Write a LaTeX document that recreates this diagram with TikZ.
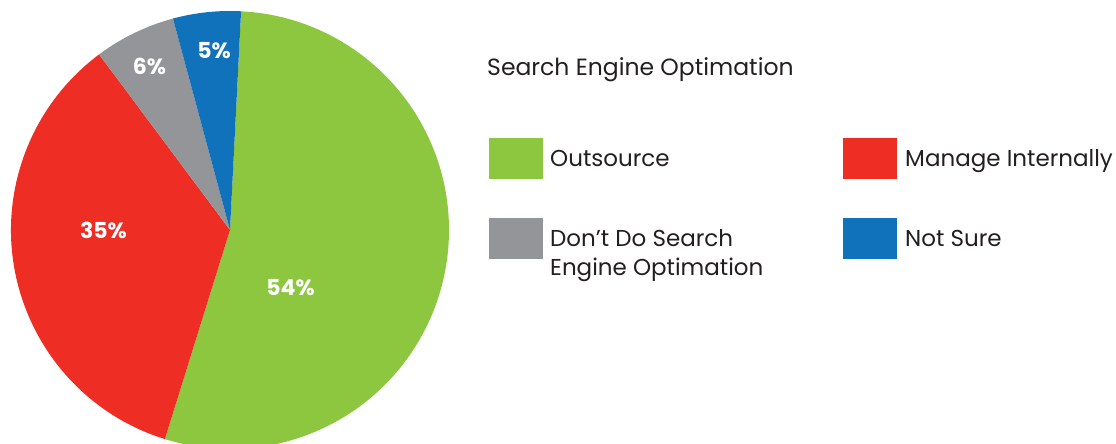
\documentclass[tikz,border=0pt]{standalone}
\usepackage{fontspec}
\setmainfont{Poppins}
\definecolor{outsrc}{HTML}{8DC63F}
\definecolor{internal}{HTML}{EE2E24}
\definecolor{nodo}{HTML}{939598}
\definecolor{unsure}{HTML}{1072BA}
\definecolor{ink}{HTML}{231F20}
\tikzset{
  pct/.style={text=white, font=\bfseries\fontsize{22}{26}\selectfont, inner sep=0pt},
  legtext/.style={text=ink, font=\fontsize{23}{28.3}\selectfont, inner sep=0pt, anchor=base west, align=left},
  swatch/.style={minimum width=54pt, minimum height=41pt, inner sep=0pt, anchor=north west},
}
\begin{document}
\begin{tikzpicture}[x=1pt,y=1pt]
\useasboundingbox (0,0) rectangle (1116,-444);
\coordinate (c) at (230,-230);
\begin{scope}
\clip (0,0) rectangle (1116,-444);
% pie slices, clockwise from the top
\fill[outsrc]   (c) -- ([shift={(87.1:219)}]c)  arc[start angle=87.1,  end angle=-107.3, radius=219] -- cycle;
\fill[internal] (c) -- ([shift={(-107.3:219)}]c) arc[start angle=-107.3, end angle=-233.3, radius=219] -- cycle;
\fill[nodo]     (c) -- ([shift={(126.7:219)}]c) arc[start angle=126.7, end angle=105.1, radius=219] -- cycle;
\fill[unsure]   (c) -- ([shift={(105.1:219)}]c) arc[start angle=105.1, end angle=87.1, radius=219] -- cycle;
\end{scope}
% slice labels
\node[pct] (p54) at (290.5,-288) {54\%};
\node[pct] (p35) at (103.5,-230.5) {35\%};
\node[pct] (p6)  at (149.5,-66.5) {6\%};
\node[pct] (p5)  at (214,-50.5) {5\%};
% legend
\node[legtext, font=\fontsize{23.5}{28}\selectfont] (title) at (487,-75) {Search Engine Optimation};
\node[swatch, fill=outsrc]   (sw1) at (489,-138) {};
\node[swatch, fill=internal] (sw2) at (843,-138) {};
\node[swatch, fill=nodo]     (sw3) at (489,-218) {};
\node[swatch, fill=unsure]   (sw4) at (843,-218) {};
\node[legtext] (l1) at (550,-166.7) {Outsource};
\node[legtext] (l2) at (905,-166.7) {Manage Internally};
\node[legtext] (l3) at (550,-275) {Don’t Do Search\\Engine Optimation};
\node[legtext] (l4) at (905,-246.7) {Not Sure};
\end{tikzpicture}
\end{document}
